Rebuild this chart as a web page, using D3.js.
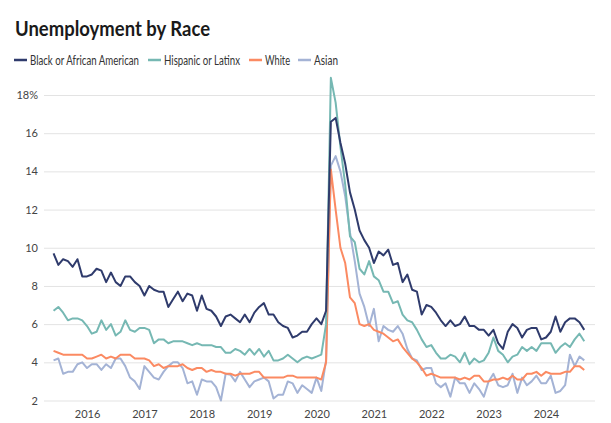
<!DOCTYPE html>
<html><head><meta charset="utf-8">
<script src="https://cdn.jsdelivr.net/npm/d3@7"></script>
<style>
body{margin:0;background:#fff;}
svg{display:block;font-family:"Source Sans Pro","Lato","Open Sans",sans-serif;}
</style></head>
<body><svg id="c" width="611" height="423"></svg>
<script>
const startYear = 2015, startMonth = 5; // June 2015 (0-based month)
const seriesNames = ["Black or African American","Hispanic or Latinx","White","Asian"];
const seriesColors = ["#2f3b6c","#76b8b3","#fb8a62","#a4b3d5"];
const black = [9.7,9.1,9.4,9.3,9.0,9.4,8.5,8.5,8.6,8.9,8.8,8.2,8.7,8.2,8.0,8.5,8.5,8.2,8.0,7.5,
8.0,7.8,7.7,7.7,6.9,7.3,7.7,7.2,7.6,7.5,6.7,7.5,6.8,6.7,6.4,5.9,6.4,6.5,6.3,6.1,
6.5,6.1,6.6,6.9,7.1,6.5,6.5,6.1,5.9,5.8,5.3,5.4,5.6,5.6,6.0,6.3,6.0,6.7,16.6,16.8,
15.5,14.4,12.9,12.0,10.9,10.4,10.0,9.2,9.8,9.6,9.9,9.1,9.2,8.2,8.6,7.8,7.7,6.5,7.0,6.9,
6.6,6.2,5.9,6.2,5.9,6.0,6.4,5.9,5.9,5.7,5.7,5.4,5.7,5.0,4.7,5.6,6.0,5.8,5.3,5.7,
5.8,5.8,5.2,5.3,5.6,6.4,5.6,6.1,6.3,6.3,6.1,5.7];
const hispanic = [6.7,6.9,6.6,6.2,6.3,6.3,6.2,5.9,5.5,5.6,6.2,5.7,6.0,5.4,5.6,6.2,5.7,5.6,5.8,5.8,
5.7,5.0,5.2,5.2,5.0,5.1,5.1,5.1,5.0,4.9,5.0,4.9,4.9,4.9,4.8,4.8,4.5,4.5,4.7,4.6,
4.4,4.7,4.4,4.7,4.3,4.6,4.1,4.1,4.2,4.4,4.2,4.0,4.2,4.3,4.2,4.3,4.4,6.0,18.9,17.6,
15.3,13.3,10.6,10.3,8.9,8.6,9.3,8.5,8.3,7.7,7.7,7.1,7.2,6.5,6.2,6.1,5.7,5.2,4.8,4.9,
4.5,4.2,4.2,4.4,4.3,4.0,4.5,3.9,4.2,4.0,4.1,4.5,5.3,4.6,4.4,4.0,4.3,4.4,4.8,4.6,
4.8,4.6,5.0,5.0,5.0,4.5,4.8,5.0,4.8,5.2,5.5,5.1];
const white = [4.6,4.5,4.4,4.4,4.4,4.4,4.4,4.2,4.2,4.3,4.4,4.2,4.3,4.2,4.4,4.4,4.4,4.2,4.2,4.2,
4.1,3.8,3.9,3.7,3.8,3.8,3.8,3.9,3.7,3.6,3.7,3.7,3.5,3.6,3.5,3.5,3.4,3.4,3.3,3.4,
3.4,3.4,3.5,3.5,3.2,3.2,3.2,3.2,3.2,3.3,3.3,3.2,3.2,3.2,3.2,3.2,3.1,4.0,14.1,12.0,
10.0,9.2,7.4,7.1,6.0,5.9,6.0,5.7,5.6,5.5,5.3,5.1,5.2,4.8,4.5,4.2,4.0,3.7,3.3,3.4,
3.3,3.2,3.2,3.2,3.2,3.1,3.2,3.1,3.3,3.3,3.0,3.0,3.1,3.1,3.2,3.1,3.3,3.1,3.1,3.4,
3.4,3.5,3.3,3.5,3.4,3.4,3.4,3.5,3.5,3.8,3.8,3.6];
const asian = [4.1,4.2,3.4,3.5,3.5,3.9,4.0,3.7,3.9,3.9,3.6,3.9,3.7,4.2,4.2,3.8,3.2,3.0,2.6,3.8,
3.5,3.2,3.1,3.5,3.8,4.0,4.0,3.7,2.9,3.0,2.3,3.1,3.0,3.0,2.7,2.0,3.4,3.35,3.0,3.5,
3.1,2.7,3.0,3.1,3.2,3.0,2.1,2.3,2.3,3.0,2.9,2.4,2.8,2.6,2.4,3.2,2.5,4.1,14.3,14.8,
14.0,12.7,10.8,9.3,7.6,6.9,5.9,6.8,5.1,5.9,5.7,5.6,5.9,5.5,4.7,4.2,4.1,3.6,3.7,3.7,
2.9,2.7,2.9,2.2,3.2,2.9,2.9,2.4,2.9,2.6,2.2,3.0,3.4,2.8,2.7,2.8,3.4,2.4,3.2,2.8,
3.0,3.3,2.9,2.9,3.3,2.4,2.5,2.8,4.4,3.8,4.3,4.1];
const yTicks = [2,4,6,8,10,12,14,16,18];
const xTickYears = [2016,2017,2018,2019,2020,2021,2022,2023,2024];

const svg = d3.select("#c");
const W = 611, H = 423;
const m = {left:44, right:16, top:95, bottom:22.5};
const monthIndex = (y, mo) => (y - startYear) * 12 + (mo - startMonth);
const x = d3.scaleLinear().domain([-2, 113.25]).range([m.left, W - m.right]);
const y = d3.scaleLinear().domain([2, 18]).range([H - m.bottom, m.top]);

// title
svg.append("text").attr("x", 15).attr("y", 36)
  .attr("font-size", 21).attr("font-weight", 700).attr("fill", "#1a1a1a")
  .attr("textLength", 195).attr("lengthAdjust", "spacingAndGlyphs")
  .text("Unemployment by Race");

// legend
const legendX = [14, 148, 249, 298];
const legendW = [109, 76, 25, 24];
seriesNames.forEach((n, i) => {
  const g = svg.append("g").attr("transform", `translate(${legendX[i]},60)`);
  g.append("line").attr("x1", 0).attr("x2", 13).attr("y1", 0).attr("y2", 0)
    .attr("stroke", seriesColors[i]).attr("stroke-width", 2.5);
  g.append("text").attr("x", 16).attr("y", 4.5).attr("font-size", 12.5).attr("fill", "#333")
    .attr("textLength", legendW[i]).attr("lengthAdjust", "spacingAndGlyphs").text(n);
});

// y grid + labels
const yAxis = d3.axisLeft(y).tickValues(yTicks).tickSize(-(W - m.left - m.right))
  .tickFormat(d => d === 18 ? "18%" : d);
const gy = svg.append("g").attr("transform", `translate(${m.left},0)`).call(yAxis);
gy.select(".domain").remove();
gy.selectAll(".tick line").attr("stroke", "#e3e3e3").attr("stroke-width", 1);
gy.selectAll(".tick text").attr("x", -6).attr("font-size", 11).attr("fill", "#444")
  .attr("font-family", "'Source Sans Pro','Lato','Open Sans',sans-serif");

// x labels
const xAxis = d3.axisBottom(x).tickValues(xTickYears.map(yr => monthIndex(yr, 0)))
  .tickSize(0).tickFormat((d, i) => xTickYears[i]);
const gx = svg.append("g").attr("transform", `translate(0,${H - m.bottom})`).call(xAxis);
gx.select(".domain").remove();
gx.selectAll(".tick text").attr("dy", "1.3em").attr("font-size", 11).attr("fill", "#444")
  .attr("font-family", "'Source Sans Pro','Lato','Open Sans',sans-serif");

// lines
const line = d3.line().x((d, i) => x(i)).y(d => y(d));
const data = [black, hispanic, white, asian];
// draw order: Asian, White, Hispanic, Black on top
[3, 2, 1, 0].forEach(k => {
  svg.append("path").datum(data[k]).attr("d", line)
    .attr("fill", "none").attr("stroke", seriesColors[k])
    .attr("stroke-width", 2).attr("stroke-linejoin", "round");
});
</script></body></html>
